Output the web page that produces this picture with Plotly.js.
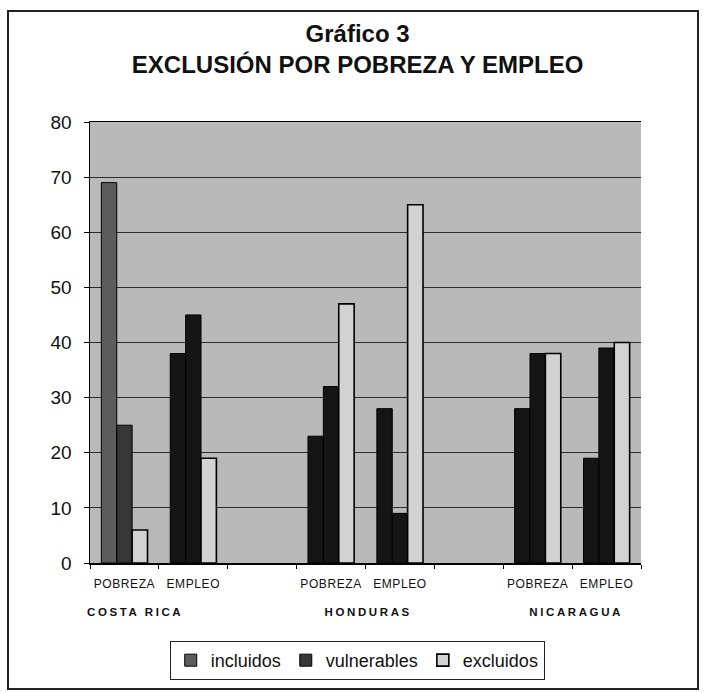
<!DOCTYPE html>
<html>
<head>
<meta charset="utf-8">
<script src="https://cdn.plot.ly/plotly-3.0.1.min.js"></script>
<style>
  html, body { margin: 0; padding: 0; background: #fff; }
  #wrap { position: relative; width: 704px; height: 693px; }
  #chart { position: absolute; left: 0; top: 0; width: 704px; height: 693px; }
  #frame { position: absolute; left: 7px; top: 10px; width: 688px; height: 676px;
           border: 2px solid #222; pointer-events: none; }
  #chart .annotation-text { letter-spacing: 2.6px; }
  #chart .xtick text { letter-spacing: 0.6px; }
</style>
</head>
<body>
<div id="wrap">
  <div id="chart"></div>
  <div id="frame"></div>
</div>
<script>
// Category keys (gaps separate the countries) and their tick labels
const categories = ['CR-POBREZA', 'CR-EMPLEO', 'gap1', 'HN-POBREZA', 'HN-EMPLEO', 'gap2', 'NI-POBREZA', 'NI-EMPLEO'];
const tickLabels = ['POBREZA', 'EMPLEO', '', 'POBREZA', 'EMPLEO', '', 'POBREZA', 'EMPLEO'];
const countries = ['COSTA RICA', 'HONDURAS', 'NICARAGUA'];

// Series values (%)
const incluidos   = [69, 38, null, 23, 28, null, 28, 19];
const vulnerables = [25, 45, null, 32, 9,  null, 38, 39];
const excluidos   = [6,  19, null, 47, 65, null, 38, 40];

const seriesNames = ['incluidos', 'vulnerables', 'excluidos'];
const yTicks = [0, 10, 20, 30, 40, 50, 60, 70, 80];

// styling
const incluidosColors   = ['#5c5c5c', '#151515', '#151515', '#151515', '#151515', '#151515', '#151515', '#151515'];
const vulnerablesColors = ['#363636', '#151515', '#151515', '#151515', '#151515', '#151515', '#151515', '#151515'];
const excluidosColor = '#d2d2d2';
const FONT = 'Liberation Sans, Arial, sans-serif';

const traces = [
  { type: 'bar', name: seriesNames[0], x: categories, y: incluidos,
    marker: { color: incluidosColors, line: { color: '#000', width: 1 } } },
  { type: 'bar', name: seriesNames[1], x: categories, y: vulnerables,
    marker: { color: vulnerablesColors, line: { color: '#000', width: 1 } } },
  { type: 'bar', name: seriesNames[2], x: categories, y: excluidos,
    marker: { color: excluidosColor, line: { color: '#000', width: 1.6 } } }
];

// country label placement (category units / paper units)
const countryX = [0.15, 3.55, 6.55];
const countryY = -0.112;

const layout = {
  width: 704, height: 693,
  margin: { l: 90, r: 63, t: 122, b: 130 },
  paper_bgcolor: 'rgba(0,0,0,0)',
  plot_bgcolor: '#b9b9b9',
  font: { family: FONT, color: '#111' },
  title: {
    text: '<b>Gráfico 3</b><br><b>EXCLUSIÓN POR POBREZA Y EMPLEO</b>',
    font: { family: FONT, size: 24, color: '#111' },
    x: 0.508, xref: 'container', xanchor: 'center',
    y: 1 - 42 / 693, yref: 'container', yanchor: 'top'
  },
  barmode: 'group',
  bargap: 0.33,
  bargroupgap: 0,
  xaxis: {
    type: 'category',
    categoryorder: 'array', categoryarray: categories,
    tickmode: 'array', tickvals: categories, ticktext: tickLabels,
    tickson: 'boundaries',
    ticks: 'outside', ticklen: 4, tickcolor: '#000', tickwidth: 1,
    tickfont: { family: FONT, size: 12, color: '#111' },
    ticklabelstandoff: 9,
    showline: true, linecolor: '#000', linewidth: 1.5, mirror: true,
    showgrid: false, zeroline: false,
    range: [-0.5, 7.5], fixedrange: true
  },
  yaxis: {
    range: [0, 80],
    tickmode: 'array', tickvals: yTicks,
    ticks: 'outside', ticklen: 5, tickcolor: '#000', tickwidth: 1,
    tickfont: { family: FONT, size: 19, color: '#111' },
    ticklabelstandoff: 8,
    showline: true, linecolor: '#000', linewidth: 1.5,
    showgrid: true, gridcolor: '#2b2b2b', gridwidth: 1,
    zeroline: false, fixedrange: true
  },
  showlegend: true,
  legend: {
    orientation: 'h',
    x: 0.485, xanchor: 'center',
    y: -0.221, yanchor: 'middle',
    bgcolor: '#fff', bordercolor: '#222', borderwidth: 1,
    font: { family: FONT, size: 18, color: '#111' },
    itemwidth: 30,
    traceorder: 'normal'
  },
  annotations: countries.map((c, i) => ({
    text: '<b>' + c + '</b>',
    xref: 'x', yref: 'paper',
    x: countryX[i], y: countryY,
    xanchor: 'center', yanchor: 'middle',
    showarrow: false,
    font: { family: FONT, size: 11.5, color: '#111' }
  }))
};

Plotly.newPlot('chart', traces, layout, { displayModeBar: false, staticPlot: true });
</script>
</body>
</html>
